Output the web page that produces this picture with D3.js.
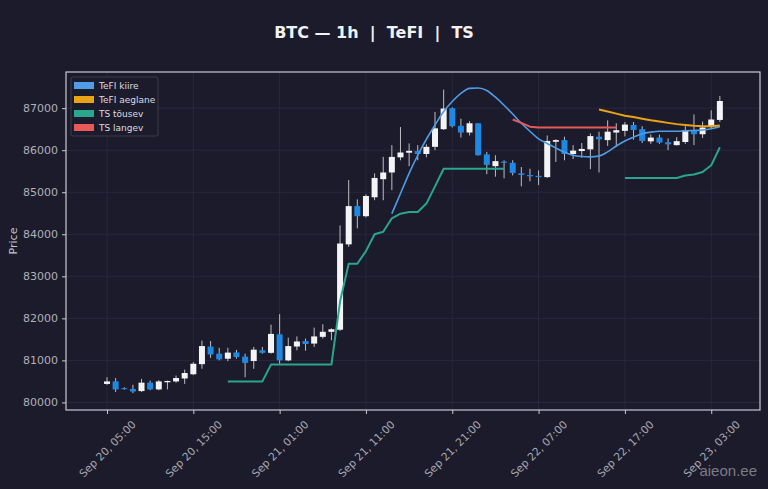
<!DOCTYPE html>
<html>
<head>
<meta charset="utf-8">
<script src="https://cdn.jsdelivr.net/npm/d3@7"></script>
<style>
  body { margin: 0; background: #1c1b2b; }
  svg { display: block; }
</style>
</head>
<body>
<div id="root"></div>
<script>
// hourly candles, Sep 20 05:00 -> Sep 23 04:00
var startTime = "2025-09-20T05:00:00Z";
var candleCount = 72;

var opens = [80440, 80500, 80340, 80320, 80270, 80470, 80310, 80480, 80500, 80570,
  80670, 80910, 81330, 81160, 81040, 81190, 81090, 80985, 81240, 81180,
  81620, 81000, 81330, 81460, 81400, 81560, 81680, 81730, 83760, 84670,
  84430, 84880, 85310, 85470, 85830, 85940, 85980, 85910, 86080, 86500,
  87000, 86580, 86420, 86640, 85900, 85620, 85730, 85700, 85450, 85410,
  85390, 85360, 86200, 86240, 85910, 85980, 86020, 86320, 86240, 86420,
  86460, 86600, 86500, 86210, 86300, 86190, 86120, 86195, 86460, 86380,
  86550, 86720];
var highs = [80600, 80580, 80360, 80420, 80560, 80520, 80530, 80520, 80640, 80780,
  80960, 81470, 81460, 81300, 81300, 81250, 81160, 81320, 81320, 81850,
  82100, 81540, 81570, 81520, 81780, 81860, 81760, 84210, 85290, 84830,
  84950, 85450, 85840, 86120, 86550, 86160, 86120, 86140, 86910, 87440,
  87020, 86750, 86690, 86640, 85960, 85880, 85760, 85760, 85600, 85560,
  85520, 86350, 86260, 86320, 86120, 86170, 86400, 86440, 86710, 86640,
  86670, 86670, 86570, 86380, 86370, 86280, 86310, 86570, 86850, 86680,
  86950, 87290];
var lows = [80420, 80250, 80300, 80220, 80250, 80290, 80290, 80310, 80470, 80440,
  80650, 80800, 81060, 81000, 80980, 81040, 80600, 80800, 81160, 81160,
  80920, 80980, 81240, 81230, 81320, 81520, 81480, 81700, 83700, 84140,
  84400, 84810, 84810, 85050, 85760, 85620, 85760, 85830, 86000, 86480,
  86540, 86300, 86350, 85870, 85430, 85370, 85330, 85400, 85140, 85260,
  85170, 85340, 85720, 85760, 85790, 85820, 85550, 85470, 86100, 86080,
  86330, 86250, 86170, 86150, 86150, 86000, 86110, 86150, 86120, 86290,
  86520, 86670];
var closes = [80500, 80310, 80320, 80260, 80470, 80310, 80500, 80510, 80580, 80700,
  80920, 81340, 81140, 81025, 81185, 81080, 80940, 81255, 81180, 81630,
  81000, 81340, 81450, 81390, 81570, 81680, 81740, 83780, 84670, 84430,
  84910, 85340, 85470, 85840, 85945, 85985, 85910, 86080, 86520, 86990,
  86570, 86420, 86640, 85880, 85650, 85740, 85700, 85460, 85410, 85380,
  85360, 86220, 86240, 85910, 85990, 86030, 86335, 86260, 86440, 86475,
  86610, 86480, 86220, 86300, 86180, 86140, 86215, 86475, 86380, 86540,
  86730, 87170];

// indicator lines, null = not drawn
var tefiKiire = [null, null, null, null, null, null, null, null, null, null,
  null, null, null, null, null, null, null, null, null, null,
  null, null, null, null, null, null, null, null, null, null,
  null, null, null, 84490, 84970, 85450, 85880, 86260, 86600, 86920,
  87160, 87350, 87470, 87480, 87420, 87260, 87070, 86860, 86640, 86450,
  86270, 86160, 86050, 85950, 85880, 85850, 85840, 85860, 85960, 86100,
  86220, 86310, 86390, 86430, 86450, 86450, 86450, 86460, 86470, 86480,
  86510, 86560];
var tefiAeglane = [null, null, null, null, null, null, null, null, null, null,
  null, null, null, null, null, null, null, null, null, null,
  null, null, null, null, null, null, null, null, null, null,
  null, null, null, null, null, null, null, null, null, null,
  null, null, null, null, null, null, null, null, null, null,
  null, null, null, null, null, null, null, 86970, 86920, 86870,
  86820, 86790, 86750, 86710, 86680, 86650, 86620, 86600, 86580, 86570,
  86570, 86590];
var tsTousev = [null, null, null, null, null, null, null, null, null, null,
  null, null, null, null, 80500, 80500, 80500, 80500, 80500, 80900,
  80900, 80900, 80900, 80900, 80900, 80900, 80900, 82400, 83300, 83300,
  83600, 84000, 84060, 84380, 84490, 84530, 84530, 84730, 85140, 85560,
  85560, 85560, 85560, 85560, 85560, 85560, 85560, null, null, null,
  null, null, null, null, null, null, null, null, null, null,
  85340, 85340, 85340, 85340, 85340, 85340, 85340, 85400, 85420, 85480,
  85640, 86070];
var tsLangev = [null, null, null, null, null, null, null, null, null, null,
  null, null, null, null, null, null, null, null, null, null,
  null, null, null, null, null, null, null, null, null, null,
  null, null, null, null, null, null, null, null, null, null,
  null, null, null, null, null, null, null, 86730, 86650, 86560,
  86540, 86540, 86540, 86540, 86540, 86540, 86540, 86540, 86540, 86540,
  null, null];

var seriesNames = ["TeFI kiire", "TeFI aeglane", "TS tõusev", "TS langev"];
var seriesColors = ["#4f9de6", "#e8a317", "#2aa58e", "#e85a5a"];

var xTicks = ["2025-09-20T05:00:00Z", "2025-09-20T15:00:00Z", "2025-09-21T01:00:00Z",
  "2025-09-21T11:00:00Z", "2025-09-21T21:00:00Z", "2025-09-22T07:00:00Z",
  "2025-09-22T17:00:00Z", "2025-09-23T03:00:00Z"];
var yTicks = [80000, 81000, 82000, 83000, 84000, 85000, 86000, 87000];

var w = 768;
var h = 489;
var margin = { top: 72, right: 8, bottom: 79, left: 66 };

var t0 = new Date(startTime);
var times = d3.utcHour.range(t0, d3.utcHour.offset(t0, candleCount));
var candles = times.map(function(t, i) {
  return { t: t, o: opens[i], h: highs[i], l: lows[i], c: closes[i] };
});

// x and y scales
var hour = 3600 * 1000;
var xScale = d3.scaleUtc()
  .domain([new Date(+times[0] - 4.75 * hour), new Date(+times[times.length - 1] + 4.65 * hour)])
  .range([margin.left, w - margin.right]);
var yScale = d3.scaleLinear().domain([79820, 87860]).range([h - margin.bottom, margin.top]);
var bodyW = 6;

var svg = d3.select("#root").append("svg").attr("width", w).attr("height", h);
svg.append("rect").attr("width", w).attr("height", h).attr("fill", "#1c1b2b");

// grid
var grid = svg.append("g").attr("stroke", "#2c2b42").attr("stroke-width", 0.8);
grid.selectAll(".gx").data(xTicks).enter().append("line")
  .attr("x1", function(d) { return xScale(new Date(d)); })
  .attr("x2", function(d) { return xScale(new Date(d)); })
  .attr("y1", margin.top).attr("y2", h - margin.bottom);
grid.selectAll(".gy").data(yTicks).enter().append("line")
  .attr("x1", margin.left).attr("x2", w - margin.right)
  .attr("y1", function(d) { return yScale(d); })
  .attr("y2", function(d) { return yScale(d); });

// candles
var cg = svg.append("g");
cg.selectAll(".wick").data(candles).enter().append("line")
  .attr("x1", function(d) { return xScale(d.t); })
  .attr("x2", function(d) { return xScale(d.t); })
  .attr("y1", function(d) { return yScale(d.h); })
  .attr("y2", function(d) { return yScale(d.l); })
  .attr("stroke", "#bdbdc4").attr("stroke-width", 1);
cg.selectAll(".body").data(candles).enter().append("rect")
  .attr("x", function(d) { return xScale(d.t) - bodyW / 2; })
  .attr("y", function(d) { return yScale(Math.max(d.o, d.c)); })
  .attr("width", bodyW)
  .attr("height", function(d) { return Math.max(1, Math.abs(yScale(d.o) - yScale(d.c))); })
  .attr("fill", function(d) { return d.c >= d.o ? "#f4f4f6" : "#1e88e5"; });

// indicator lines
var lineData = [tefiKiire, tefiAeglane, tsTousev, tsLangev];
var line = d3.line()
  .defined(function(d) { return d.v != null; })
  .x(function(d) { return xScale(d.t); })
  .y(function(d) { return yScale(d.v); });
lineData.forEach(function(arr, k) {
  var pts = arr.map(function(v, i) { return { t: times[i], v: v }; });
  svg.append("path").datum(pts)
    .attr("fill", "none")
    .attr("stroke", seriesColors[k])
    .attr("stroke-width", k == 0 ? 1.6 : 2)
    .attr("stroke-linejoin", "round")
    .attr("d", line.curve(k == 0 ? d3.curveMonotoneX : d3.curveLinear));
});

// frame
svg.append("rect").attr("x", margin.left).attr("y", margin.top)
  .attr("width", w - margin.left - margin.right).attr("height", h - margin.top - margin.bottom)
  .attr("fill", "none").attr("stroke", "#c9c9d2").attr("stroke-width", 1.2);

// y axis
var yAxis = d3.axisLeft(yScale).tickValues(yTicks).tickSize(4).tickPadding(4).tickFormat(d3.format("d"));
var yg = svg.append("g").attr("transform", "translate(" + margin.left + ",0)").call(yAxis);
yg.select(".domain").remove();
yg.selectAll("line").attr("stroke", "#c9c9d2");
yg.selectAll("text").attr("fill", "#b0b0b8").style("font", "11px 'DejaVu Sans'");

// x axis
var xAxis = d3.axisBottom(xScale).tickValues(xTicks.map(function(d) { return new Date(d); })).tickSize(4).tickFormat(d3.utcFormat("%b %d, %H:%M"));
var xg = svg.append("g").attr("transform", "translate(0," + (h - margin.bottom) + ")").call(xAxis);
xg.select(".domain").remove();
xg.selectAll("line").attr("stroke", "#c9c9d2");
xg.selectAll("text")
  .attr("fill", "#a8a8b2").style("font", "10.7px 'DejaVu Sans'")
  .attr("text-anchor", "middle").attr("y", 0).attr("dy", "0.35em")
  .attr("transform", "translate(0,39) rotate(-45)");

// axis title
svg.append("text").attr("transform", "translate(17," + ((margin.top + h - margin.bottom) / 2) + ") rotate(-90)")
  .attr("text-anchor", "middle").attr("fill", "#c4c4cc").style("font", "11px 'DejaVu Sans'").text("Price");

// title
svg.append("text").attr("x", 374).attr("y", 38).attr("text-anchor", "middle")
  .attr("fill", "#f2f2f5").style("font", "bold 16px 'DejaVu Sans'").text("BTC — 1h  |  TeFI  |  TS")
  .attr("xml:space", "preserve").style("white-space", "pre");

// legend
var lg = svg.append("g").attr("transform", "translate(71,77)");
lg.append("rect").attr("width", 87).attr("height", 59).attr("rx", 2)
  .attr("fill", "#1c1b2b").attr("stroke", "#45455a").attr("stroke-width", 0.8);
seriesNames.forEach(function(name, k) {
  lg.append("rect").attr("x", 3).attr("y", 5 + k * 14).attr("width", 20).attr("height", 7)
    .attr("fill", seriesColors[k]);
  lg.append("text").attr("x", 28).attr("y", 8.5 + k * 14).attr("dy", "0.35em")
    .attr("fill", "#dcdce2").style("font", "9px 'DejaVu Sans'").text(name);
});

// watermark
svg.append("text").attr("x", 757).attr("y", 476).attr("text-anchor", "end")
  .attr("fill", "#8c8c98").attr("opacity", 0.85).style("font", "15px 'Liberation Sans'").text("aieon.ee");
</script>
</body>
</html>
